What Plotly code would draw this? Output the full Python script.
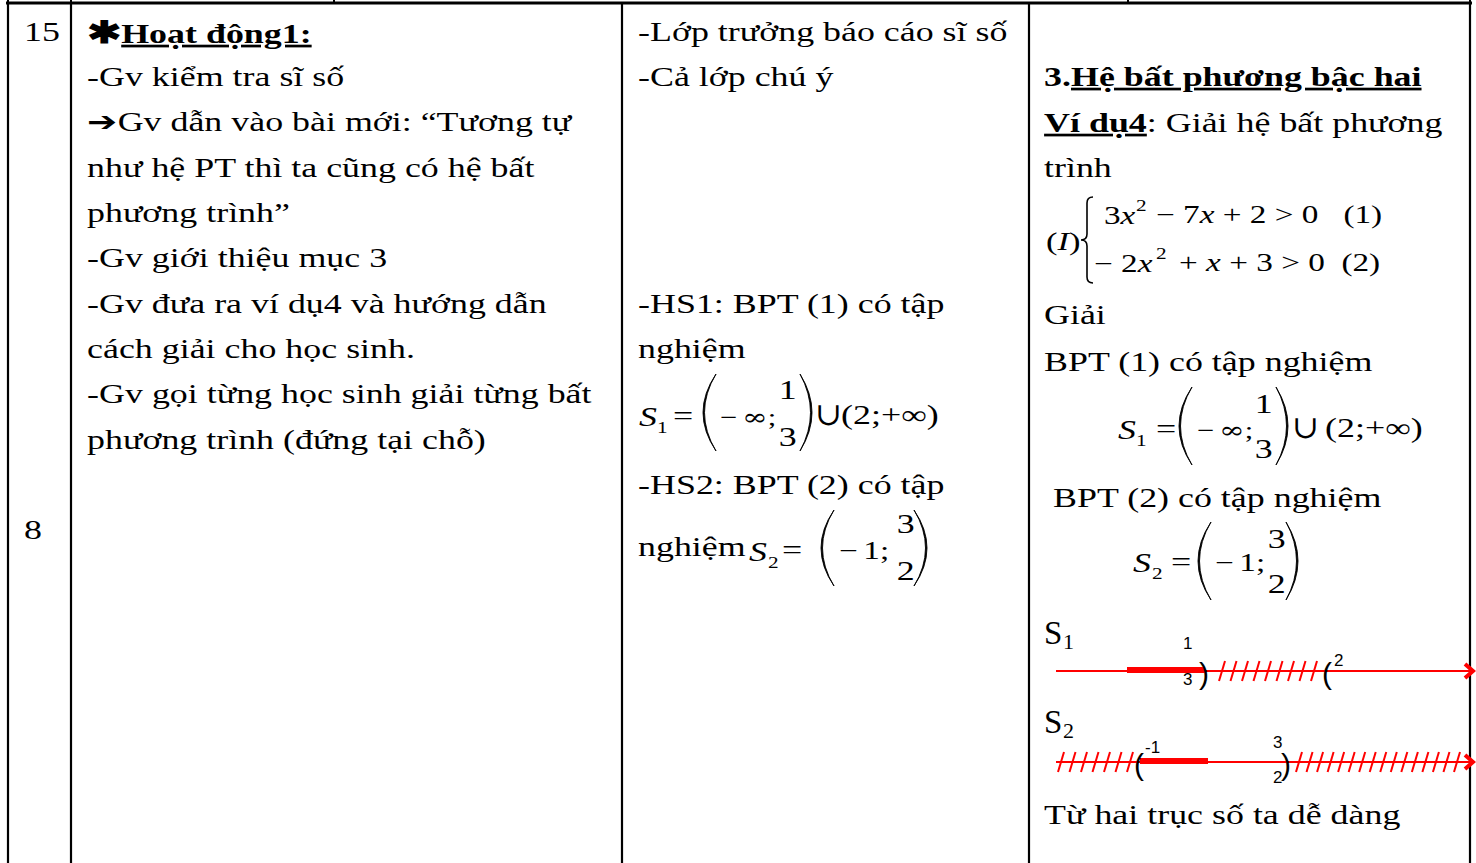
import numpy as np
import plotly.graph_objects as go

W, H = 1476, 863

# ---------------- content (text values) ----------------
row_numbers = ["15", "8"]
activity_title = "Hoạt động1:"
teacher_lines = [
    "-Gv kiểm tra sĩ số",
    "➔Gv dẫn vào bài mới: “Tương tự",
    "như hệ PT thì ta cũng có hệ bất",
    "phương trình”",
    "-Gv giới thiệu mục 3",
    "-Gv đưa ra ví dụ4 và hướng dẫn",
    "cách giải cho học sinh.",
    "-Gv gọi từng học sinh giải từng bất",
    "phương trình (đứng tại chỗ)",
]
student_top = ["-Lớp trưởng báo cáo sĩ số", "-Cả lớp chú ý"]
student_hs1 = ["-HS1: BPT (1) có tập", "nghiệm"]
student_hs2 = ["-HS2: BPT (2) có tập", "nghiệm"]
section_no = "3."
section_title = "Hệ bất phương bậc hai"
example_label = "Ví dụ4"
example_rest = ": Giải hệ bất phương"
example_cont = "trình"
system_name = "I"
ineq1_parts = ["3<i>x</i>", "2", "− 7<i>x</i> + 2 &gt; 0   (1)"]
ineq2_parts = ["− 2<i>x</i>", "2", "+ <i>x</i> + 3 &gt; 0  (2)"]
solve_word = "Giải"
bpt1_text = "BPT (1) có tập nghiệm"
bpt2_text = "BPT (2) có tập nghiệm"
closing_text = "Từ hai trục số ta dễ dàng"

# solution sets
S1_left = ["−\u2006<span style='font-family:DejaVu Serif'>∞</span>;", "1", "3"]   # (-inf ; 1/3)
S1_right = "(2;+∞)"
S2_parts = ["−\u20061;", "3", "2"]          # (-1 ; 3/2)
nl1_bounds = ["1/3", "2"]
nl2_bounds = ["-1", "3/2"]
set_names = [("S", "1"), ("S", "2")]

# ---------------- style ----------------
SERIF = "Liberation Serif, Times New Roman, serif"
SANS = "Liberation Sans, Arial, sans-serif"
FS = 27
SX = 1.33
RED = "#ff0000"

annotations = []
shapes = []


def T(x, y, text, size=FS, anchor="left", stretch=True, family=SERIF, color="black"):
    annotations.append(dict(
        x=x, y=y, xref="x", yref="y", text=text, showarrow=False,
        xanchor=anchor, yanchor="middle", borderpad=0,
        font=dict(family=family, size=size, color=color),
        name="w" if stretch else "n",
    ))


def L(x0, y0, x1, y1, width=2, color="black"):
    shapes.append(dict(type="line", xref="x", yref="y", x0=x0, y0=y0, x1=x1, y1=y1,
                       line=dict(color=color, width=width)))


def paren(a, b, yt, yb, t=1.5):
    # a: extreme x of the bulge, b: x of the tips
    ym = (yt + yb) / 2
    c1 = 2 * a - b
    sgn = 1 if b > a else -1
    c2 = 2 * (a + sgn * t) - b
    path = f"M {b},{yt} Q {c1},{ym} {b},{yb} Q {c2},{ym} {b},{yt} Z"
    shapes.append(dict(type="path", xref="x", yref="y", path=path,
                       fillcolor="black", line=dict(color="black", width=0.9)))


def brace(xl, xr, yt, yb):
    xm = (xl + xr) / 2
    ym = (yt + yb) / 2
    r = 6
    path = (f"M {xr},{yt} Q {xm},{yt} {xm},{yt + r} L {xm},{ym - r} "
            f"Q {xm},{ym} {xl},{ym} Q {xm},{ym} {xm},{ym + r} L {xm},{yb - r} "
            f"Q {xm},{yb} {xr},{yb}")
    shapes.append(dict(type="path", xref="x", yref="y", path=path,
                       line=dict(color="black", width=1.6)))


# ---------------- table grid ----------------
for xv in [8, 71, 622, 1029, 1470]:
    L(xv, 3, xv, H, width=2.2)
for xv in [8, 71, 334, 1128, 1470]:
    L(xv, 0, xv, 3, width=2)
L(6, 3, 1472, 3, width=3)

# ---------------- column 1 ----------------
T(23, 32, row_numbers[0])
T(23, 530, row_numbers[1])

# ---------------- column 2 ----------------
STEP = 45.35
T(86, 32, "<b><span style='font-size:31px'>✱</span><u>" + activity_title + "</u></b>")
for i, line in enumerate(teacher_lines):
    T(86, 77 + i * STEP, line)

# ---------------- column 3 ----------------
T(637, 32, student_top[0])
T(637, 77, student_top[1])
T(637, 304, student_hs1[0])
T(637, 349, student_hs1[1])
T(637, 485, student_hs2[0])
T(637, 547, student_hs2[1])

# S1 formula (column 3)
T(638, 417, "<i>S</i>")
T(656, 427, S1_left[1], size=16)
T(672, 416, "=")
paren(703, 716, 374, 451)
T(719, 417, S1_left[0], size=23)
T(788, 390, S1_left[1], anchor="center")
T(788, 437, S1_left[2], anchor="center")
paren(812, 800, 374, 451)
T(828, 414, "∪", size=32, anchor="center", stretch=False, family="DejaVu Serif")
T(840, 415, S1_right)

# S2 formula (column 3)
T(748, 552, "<i>S</i>")
T(767, 562, S2_parts[2], size=16)
T(781, 550, "=")
paren(821, 834, 510, 586)
T(838, 550, S2_parts[0], size=25)
T(906, 524, S2_parts[1], anchor="center")
T(906, 571, S2_parts[2], anchor="center")
paren(927, 914, 510, 586)

# ---------------- column 4 ----------------
T(1043, 77, "<b>" + section_no + "<u>" + section_title + "</u></b>")
T(1043, 123, "<b><u>" + example_label + "</u></b>" + example_rest)
T(1043, 168, example_cont)

T(1045, 241, "(<i>" + system_name + "</i>)", size=26)
brace(1081, 1093, 197, 283)
T(1103, 215, ineq1_parts[0], size=25)
T(1135, 205, ineq1_parts[1], size=16)
T(1155, 215, ineq1_parts[2], size=25)
T(1093, 263, ineq2_parts[0], size=25)
T(1155, 253, ineq2_parts[1], size=16)
T(1178, 263, ineq2_parts[2], size=25)

T(1043, 315, solve_word)
T(1043, 362, bpt1_text)

# S1 formula (column 4)
T(1117, 430, "<i>S</i>")
T(1135, 440, S1_left[1], size=16)
T(1155, 429, "=")
paren(1179, 1192, 387, 465)
T(1196, 430, S1_left[0], size=23)
T(1264, 404, S1_left[1], anchor="center")
T(1264, 449, S1_left[2], anchor="center")
paren(1288, 1276, 387, 465)
T(1305, 427, "∪", size=32, anchor="center", stretch=False, family="DejaVu Serif")
T(1324, 428, S1_right)

T(1052, 498, bpt2_text)

# S2 formula (column 4)
T(1132, 563, "<i>S</i>")
T(1151, 573, S2_parts[2], size=16)
T(1170, 562, "=")
paren(1198, 1211, 522, 600)
T(1214, 562, S2_parts[0], size=25)
T(1277, 539, S2_parts[1], anchor="center")
T(1277, 584, S2_parts[2], anchor="center")
paren(1298, 1286, 522, 600)

# ---------------- number lines ----------------
def hatches(x0, x1, y, n):
    for xh in np.linspace(x0, x1, n):
        L(xh - 3, y + 10, xh + 3, y - 10, width=2, color=RED)


def arrow_end(x, y):
    shapes.append(dict(type="path", xref="x", yref="y",
                       path=f"M {x - 8},{y - 7} L {x},{y} L {x - 8},{y + 7}",
                       line=dict(color=RED, width=4)))


def set_label(x, y, name):
    T(x, y, name[0], size=33, stretch=False)
    T(x + 19, y + 8, name[1], size=22, stretch=False)


# S1
set_label(1043, 633, set_names[0])
y1 = 671
L(1056, y1, 1472, y1, width=2, color=RED)
arrow_end(1473, y1)
L(1127, y1 - 1, 1205, y1 - 1, width=6, color=RED)
num, den = nl1_bounds[0].split("/")
T(1187, 643, num, size=17, anchor="center", stretch=False, family=SANS)
T(1187, 679, den, size=17, anchor="center", stretch=False, family=SANS)
T(1204, 673, ")", size=30, anchor="center", stretch=False, family=SANS)
hatches(1222, 1314, y1, 9)
T(1327, 673, "(", size=30, anchor="center", stretch=False, family=SANS)
T(1333, 660, nl1_bounds[1], size=17, stretch=False, family=SANS)

# S2
set_label(1043, 722, set_names[1])
y2 = 762
L(1056, y2, 1472, y2, width=2, color=RED)
arrow_end(1473, y2)
hatches(1061, 1130, y2, 7)
T(1139, 764, "(", size=30, anchor="center", stretch=False, family=SANS)
T(1144, 747, nl2_bounds[0], size=17, stretch=False, family=SANS)
L(1140, y2 - 1, 1208, y2 - 1, width=6, color=RED)
num, den = nl2_bounds[1].split("/")
T(1277, 742, num, size=17, anchor="center", stretch=False, family=SANS)
T(1277, 777, den, size=17, anchor="center", stretch=False, family=SANS)
T(1286, 764, ")", size=30, anchor="center", stretch=False, family=SANS)
hatches(1299, 1457, y2, 16)

T(1043, 815, closing_text)

# ---------------- figure ----------------
fig = go.Figure()
fig.add_trace(go.Scatter(x=[0, W], y=[0, H], mode="markers",
                         marker=dict(opacity=0), hoverinfo="skip", showlegend=False))
fig.update_layout(
    width=W, height=H,
    margin=dict(l=0, r=0, t=0, b=0),
    paper_bgcolor="white", plot_bgcolor="white",
    xaxis=dict(range=[0, W], visible=False, fixedrange=True),
    yaxis=dict(range=[H, 0], visible=False, fixedrange=True),
    annotations=annotations, shapes=shapes,
    showlegend=False,
)

post = """
document.body.style.margin = '0';
document.body.style.padding = '0';
document.body.style.overflow = 'hidden';
var gd = document.getElementById('{plot_id}');
var anns = (gd.layout && gd.layout.annotations) || [];
gd.querySelectorAll('g.annotation').forEach(function(g){
  var i = parseInt(g.getAttribute('data-index'));
  var a = anns[i];
  if(!a || a.name !== 'w') return;
  var t = g.querySelector('text');
  if(!t) return;
  var org = a.xanchor === 'left' ? 'left' : (a.xanchor === 'right' ? 'right' : 'center');
  t.style.transformBox = 'fill-box';
  t.style.transformOrigin = org + ' center';
  t.style.transform = 'scaleX(%s)';
});
""" % SX

fig.write_html("out.html", config={"displayModeBar": False, "staticPlot": True},
               post_script=post)
